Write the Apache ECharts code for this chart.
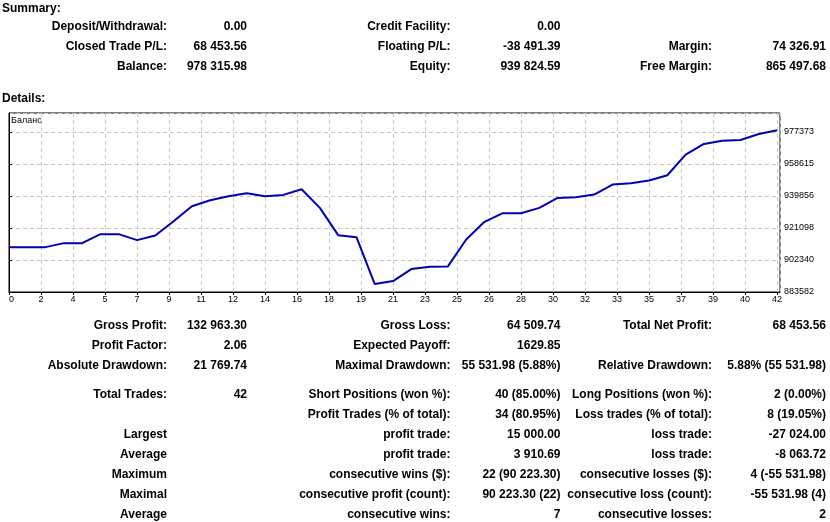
<!DOCTYPE html>
<html>
<head>
<meta charset="utf-8">
<script src="https://cdn.jsdelivr.net/npm/echarts@6/dist/echarts.min.js"></script>
<style>
  html, body { margin: 0; padding: 0; background: #fff; }
  #wrap { position: relative; width: 830px; height: 522px; overflow: hidden; }
  #chart { position: absolute; left: 0; top: 0; width: 830px; height: 522px; }
  .t { position: absolute; white-space: nowrap; font-family: "Liberation Sans", Arial, sans-serif;
       font-weight: bold; font-size: 12px; color: #000; line-height: 14px; }
</style>
</head>
<body>
<div id="wrap">
  <div id="chart"></div>
</div>
<script>
// ---------- data ----------
const tradeIndex = [0,1,2,3,4,5,6,7,8,9,10,11,12,13,14,15,16,17,18,19,20,21,22,23,24,25,26,27,28,29,30,31,32,33,34,35,36,37,38,39,40,41,42];
const balance = [909862,909862,909862,912200,912200,917462,917462,913954,916683,925063,
                 933833,937341,939680,941434,939680,940459,943772,932859,916878,915708,
                 888240,889983,896999,898363,898558,914344,924673,929740,929740,932859,
                 938705,939095,940654,946501,947280,948840,951958,964041,970278,972226,
                 972616,976124,978316];
const yTickLabels = ['883582','902340','921098','939856','958615','977373'];
const seriesName = 'Баланс';

const summaryRows = [
  ['Deposit/Withdrawal:', '0.00', 'Credit Facility:', '0.00', '', ''],
  ['Closed Trade P/L:', '68 453.56', 'Floating P/L:', '-38 491.39', 'Margin:', '74 326.91'],
  ['Balance:', '978 315.98', 'Equity:', '939 824.59', 'Free Margin:', '865 497.68']
];
const detailRows = [
  ['Gross Profit:', '132 963.30', 'Gross Loss:', '64 509.74', 'Total Net Profit:', '68 453.56'],
  ['Profit Factor:', '2.06', 'Expected Payoff:', '1629.85', '', ''],
  ['Absolute Drawdown:', '21 769.74', 'Maximal Drawdown:', '55 531.98 (5.88%)', 'Relative Drawdown:', '5.88% (55 531.98)'],
  ['Total Trades:', '42', 'Short Positions (won %):', '40 (85.00%)', 'Long Positions (won %):', '2 (0.00%)'],
  ['', '', 'Profit Trades (% of total):', '34 (80.95%)', 'Loss trades (% of total):', '8 (19.05%)'],
  ['Largest', '', 'profit trade:', '15 000.00', 'loss trade:', '-27 024.00'],
  ['Average', '', 'profit trade:', '3 910.69', 'loss trade:', '-8 063.72'],
  ['Maximum', '', 'consecutive wins ($):', '22 (90 223.30)', 'consecutive losses ($):', '4 (-55 531.98)'],
  ['Maximal', '', 'consecutive profit (count):', '90 223.30 (22)', 'consecutive loss (count):', '-55 531.98 (4)'],
  ['Average', '', 'consecutive wins:', '7', 'consecutive losses:', '2']
];
const sectionTitles = ['Summary:', 'Details:'];

// ---------- text layout ----------
const wrap = document.getElementById('wrap');
function put(text, x, y, alignRight) {
  if (!text) return;
  const d = document.createElement('div');
  d.className = 't';
  d.textContent = text;
  wrap.appendChild(d);
  const w = d.getBoundingClientRect().width;
  d.style.left = (alignRight ? x - w : x) + 'px';
  d.style.top = (y - 7) + 'px';
}
const colRights = [167, 247, 450.5, 560.5, 712, 826];
put(sectionTitles[0], 2, 8, false);
put(sectionTitles[1], 2, 98, false);
const summaryY = [26, 46, 66];
summaryRows.forEach((r, i) => r.forEach((c, j) => put(c, colRights[j], summaryY[i], true)));
const detailY = [325, 345, 365, 394, 414, 434, 454, 474, 494, 514];
detailRows.forEach((r, i) => r.forEach((c, j) => put(c, colRights[j], detailY[i], true)));

// ---------- chart ----------
const yMin = 883582, yStep = 18758.2, yMax = 988424;
const xStep = 1.75, xMax = 42.16;
const chart = echarts.init(document.getElementById('chart'), null, { renderer: 'canvas' });
const axisFont = { fontFamily: 'Liberation Sans, Arial, sans-serif', fontSize: 9, color: '#000' };
chart.setOption({
  animation: false,
  backgroundColor: 'transparent',
  title: {
    text: seriesName, left: 11, top: 116, padding: 0,
    textStyle: { fontFamily: 'Liberation Sans, Arial, sans-serif', fontSize: 9, fontWeight: 'normal', color: '#000' }
  },
  grid: { left: 9, top: 113, width: 771, height: 179, show: true, borderColor: '#000', borderWidth: 1, containLabel: false },
  xAxis: {
    type: 'value', min: 0, max: xMax, interval: xStep,
    axisLine: { show: true, lineStyle: { color: '#000', width: 1 } },
    axisTick: { show: true, length: 3, lineStyle: { color: '#000' } },
    axisLabel: Object.assign({ margin: 3, showMaxLabel: false, alignMinLabel: 'left',
      formatter: v => String(Math.round(v)) }, axisFont),
    splitLine: { show: true, lineStyle: { color: '#c8c8c8', type: [4, 3], width: 1 } }
  },
  yAxis: {
    type: 'value', position: 'right', min: yMin, max: yMax, interval: yStep,
    axisLine: { show: true, lineStyle: { color: '#000', width: 1 } },
    axisTick: { show: true, length: 3, lineStyle: { color: '#000' } },
    axisLabel: Object.assign({ margin: 4, showMaxLabel: false,
      formatter: v => { const k = Math.round((v - yMin) / yStep); return yTickLabels[k] || ''; } }, axisFont),
    splitLine: { show: true, lineStyle: { color: '#c8c8c8', type: [4, 3], width: 1 } }
  },
  series: [{
    name: seriesName, type: 'line', showSymbol: false, symbol: 'none',
    lineStyle: { color: '#0000b4', width: 2 },
    data: tradeIndex.map((t, i) => [t, balance[i]])
  }]
});
</script>
</body>
</html>
